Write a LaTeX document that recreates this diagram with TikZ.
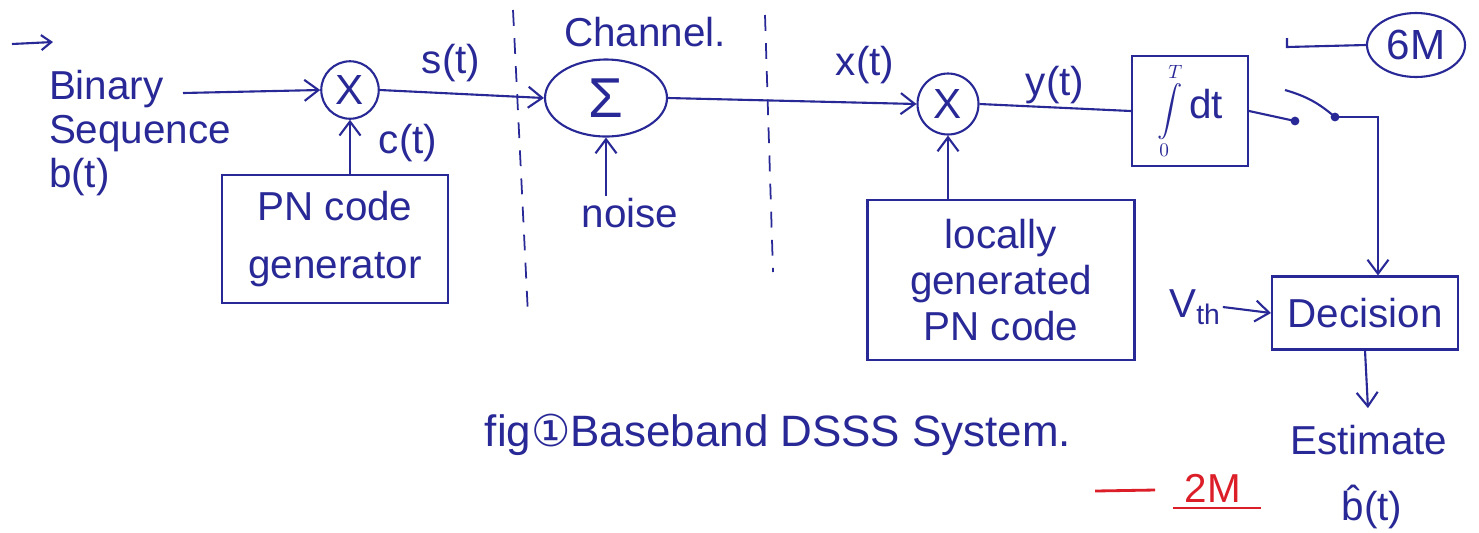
\documentclass[tikz,border=0pt]{standalone}
\usepackage{amsmath}
\usepackage{fontspec}
\setmainfont{Liberation Sans}
\newfontfamily\dejavu{DejaVu Sans}
\usetikzlibrary{shapes.geometric,arrows.meta}
\definecolor{ink}{RGB}{40,40,150}
\definecolor{redink}{RGB}{220,30,40}
\begin{document}
\begin{tikzpicture}[x=0.02cm,y=-0.02cm,
  inkline/.style={draw=ink, line width=1.2pt},
  arr/.style={inkline, -{Straight Barb[length=2.8mm,width=4.2mm]}},
  lbl/.style={text=ink, font=\fontsize{23}{27}\selectfont, inner sep=1pt},
  blk/.style={draw=ink, line width=1.2pt, rectangle, inner sep=0pt, text=ink, font=\fontsize{23}{27}\selectfont, align=center},
  mix/.style={draw=ink, line width=1.2pt, circle, minimum size=1.15cm, inner sep=0pt, text=ink, font=\fontsize{24}{28}\selectfont},
  sep/.style={draw=ink, line width=1pt, dash pattern=on 9pt off 7pt}]
\useasboundingbox[fill=white] (0,0) rectangle (1479,532);

% blocks
\node[mix] (mix1) at (350,90) {X};
\node[draw=ink, line width=1.2pt, ellipse, minimum width=2.44cm, minimum height=1.54cm, inner sep=0pt, text=ink, font=\fontsize{32}{32}\selectfont] (sum) at (606,98) {Σ};
\node[mix, minimum size=1.22cm] (mix2) at (948,104) {X};
\node[blk, minimum width=2.32cm, minimum height=2.2cm] (int) at (1190,111) {{\fontsize{15}{18}\selectfont$\displaystyle\int\limits_0^T$}\,dt};
\node[blk, minimum width=3.72cm, minimum height=1.46cm] (dec) at (1365,313) {Decision};
\node[blk, minimum width=4.52cm, minimum height=2.56cm, font=\fontsize{23}{33}\selectfont] (pn) at (335,239) {PN code\\generator};
\node[blk, minimum width=5.34cm, minimum height=3.2cm, font=\fontsize{23}{26}\selectfont] (lpn) at (1001,280) {locally\\generated\\PN code};
\node[draw=ink, line width=1.2pt, ellipse, minimum width=1.96cm, minimum height=1.28cm, inner sep=0pt, text=ink, font=\fontsize{24}{28}\selectfont] (six) at (1416,45) {6M};

% labels
\node[lbl, align=left, font=\fontsize{23}{25}\selectfont] (bin) at (140,133) {Binary\\Sequence\\b(t)};
\node[lbl] (s) at (451,63) {s(t)};
\node[lbl] (c) at (408,143) {c(t)};
\node[lbl] (ch) at (645,32) {Channel.};
\node[lbl] (noise) at (630,213) {noise};
\node[lbl] (x) at (865,65) {x(t)};
\node[lbl] (y) at (1055,85) {y(t)};
\node[lbl] (vth) at (1195,307) {V\textsubscript{th}};
\node[lbl, anchor=west] (est) at (1288,440) {Estimate};
\node[lbl] (bh) at (1372,507) {\^{b}(t)};
\node[lbl, font=\fontsize{25}{28}\selectfont] (cap) at (778,435) {fig{\dejavu ①}Baseband DSSS System.};
\node[text=redink, font=\fontsize{23}{26}\selectfont, inner sep=1pt] (two) at (1213,488) {2M};

% channel separators
\draw[sep] (513,10) -- (528,315);
\draw[sep] (765,15) -- (773,272);

% coordinates
\coordinate (tl0) at (12,44);
\coordinate (tl1) at (53,42);
\coordinate (bs) at (183,93);
\coordinate (sw1) at (1295,121);
\coordinate (sw0) at (1285,90);
\coordinate (sw2) at (1335,117);
\coordinate (m0) at (1287,38);
\coordinate (m1) at (1287,47);
\coordinate (r0) at (1095,491);
\coordinate (r1) at (1155,490);
\coordinate (u0) at (1173,508);
\coordinate (u1) at (1261,508);

% connectors
\draw[inkline, -{Straight Barb[length=2mm,width=3mm]}] (tl0) -- (tl1);
\draw[arr] (bs) -- (mix1.west);
\draw[arr] (mix1.east) -- (sum.west);
\draw[arr] (pn.north -| mix1) -- (mix1.south);
\draw[arr] (noise.north -| sum) -- (sum.south);
\draw[arr] (sum.east) -- (mix2.west);
\draw[arr] (lpn.north -| mix2) -- (mix2.south);
\draw[inkline] (mix2.east) -- (int.west);
\draw[inkline] (int.east) -- (sw1);
\fill[ink] (sw1) circle (2.5pt);
\draw[inkline] (sw0) to[bend left=12] (sw2);
\fill[ink] (sw2) circle (2.5pt);
\draw[arr] (sw2) -| ([xshift=0.26cm]dec.north);
\draw[inkline] (m0) -- (m1) -- (six.west);
\draw[arr] (vth.east) -- (dec.west);
\draw[arr, shorten >=0.3cm] (dec.south) -- (est.north);
\draw[draw=redink, line width=1.6pt] (r0) -- (r1);
\draw[draw=redink, line width=1.3pt] (u0) -- (u1);
\end{tikzpicture}
\end{document}
